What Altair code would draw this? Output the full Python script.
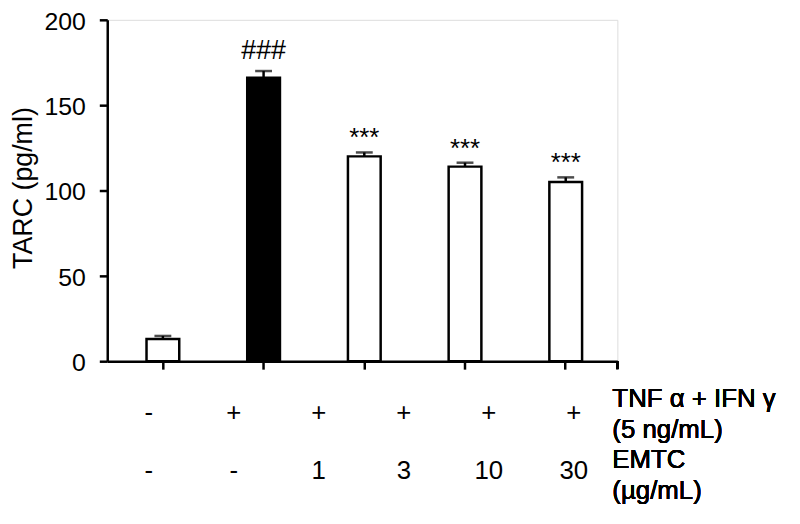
import altair as alt
import pandas as pd

# ---- data ----
bar_ids = ["ctrl", "tnf", "e1", "e3", "e10"]
tarc = [13, 166, 120, 114, 105]
sem = [1.8, 4.0, 2.3, 2.3, 2.7]
signif = ["", "###", "***", "***", "***"]
fills = ["white", "black", "white", "white", "white"]

cols = ["c1", "c2", "c3", "c4", "c5", "c6"]
tnf_row = ["-", "+", "+", "+", "+", "+"]
emtc_row = ["-", "-", "1", "3", "10", "30"]
row_titles = ["TNF α + IFN γ\n(5 ng/mL)", "EMTC\n(µg/mL)"]

FONT = "Liberation Sans"
W, H = 514, 344
TOP = 10  # padding above plot (page margin 8 is added outside)

df = pd.DataFrame({"bar": bar_ids, "tarc": tarc, "sem": sem,
                   "sig": signif, "fill": fills})
df["top"] = df["tarc"] + df["sem"]

lab = pd.DataFrame({"col": cols, "tnf": tnf_row, "emtc": emtc_row})

xs = alt.Scale(type="band", domain=bar_ids, paddingInner=0.675,
               paddingOuter=0.37, align=0.527)
x = alt.X("bar:N", scale=xs,
          axis=alt.Axis(labels=False, title=None, grid=False,
                        domainColor="black", domainWidth=2.5,
                        tickColor="black", tickWidth=2.5, tickSize=8))
y = alt.Y("tarc:Q", scale=alt.Scale(domain=[0, 200], nice=False),
          axis=alt.Axis(values=[0, 50, 100, 150, 200], title="TARC (pg/ml)",
                        grid=False, domainColor="black", domainWidth=2.5,
                        tickColor="black", tickWidth=2.5, tickSize=8,
                        labelFontSize=25, labelPadding=14, labelColor="black",
                        labelOffset=1.5,
                        labelFont=FONT, titleFont=FONT, titleFontSize=27,
                        titleFontWeight="normal", titleColor="black",
                        titleAngle=270, titleAlign="center",
                        titleBaseline="alphabetic", titleX=-76, titleY=169))

base = alt.Chart(df)

bars = base.mark_bar(stroke="black", strokeWidth=2.5).encode(
    x=x, y=y, fill=alt.Fill("fill:N", scale=None))

err = base.mark_rule(color="black", strokeWidth=2.5).encode(
    x=alt.X("bar:N", scale=xs), y="tarc:Q", y2="top:Q")

caps = base.mark_tick(color="black", thickness=2.5, size=17, orient="horizontal").encode(
    x=alt.X("bar:N", scale=xs), y="top:Q")

hashes = base.transform_filter(alt.datum.sig == "###").mark_text(
    font=FONT, fontSize=27, dy=-12, baseline="alphabetic", color="black").encode(
    x=alt.X("bar:N", scale=xs), y="top:Q", text="sig:N")

stars = base.transform_filter(alt.datum.sig == "***").mark_text(
    font=FONT, fontSize=26, dy=-6, baseline="alphabetic", color="black").encode(
    x=alt.X("bar:N", scale=xs), y="top:Q", text="sig:N")

end_tick = base.mark_rule(color="black", strokeWidth=2.5).encode(
    x=alt.value(W), y=alt.value(H), y2=alt.value(H + 8))

plot = alt.layer(bars, err, caps, hashes, stars, end_tick)

# bottom condition table (rows relative to plot bottom at H)
xl = alt.X("col:N", scale=alt.Scale(type="point", domain=cols, range=[-1, 513], padding=0.5),
           axis=None)
lbase = alt.Chart(lab)
row1 = lbase.mark_text(font=FONT, fontSize=26, baseline="middle", color="black").encode(
    x=xl, y=alt.value(H + 52), text="tnf:N")
row2 = lbase.mark_text(font=FONT, fontSize=26, baseline="middle", color="black").encode(
    x=xl, y=alt.value(H + 111), text="emtc:N")
t1 = lbase.mark_text(font=FONT, fontSize=26, baseline="alphabetic", align="left",
                     lineBreak="\n", lineHeight=31, color="black").encode(
    x=alt.value(509), y=alt.value(H + 46), text=alt.value(row_titles[0]))
t2 = lbase.mark_text(font=FONT, fontSize=26, baseline="alphabetic", align="left",
                     lineBreak="\n", lineHeight=31, color="black").encode(
    x=alt.value(509), y=alt.value(H + 108), text=alt.value(row_titles[1]))
labels = alt.layer(row1, row2, t1, t2)

chart = alt.layer(plot, labels).resolve_scale(x="independent").properties(
    width=W, height=H,
    autosize=alt.AutoSizeParams(type="none"),
    padding={"left": 100, "top": TOP, "right": 176, "bottom": 146},
).configure_view(stroke=None).configure(background="white")

chart.save("out.html", embed_options={"renderer": "svg", "actions": False})
